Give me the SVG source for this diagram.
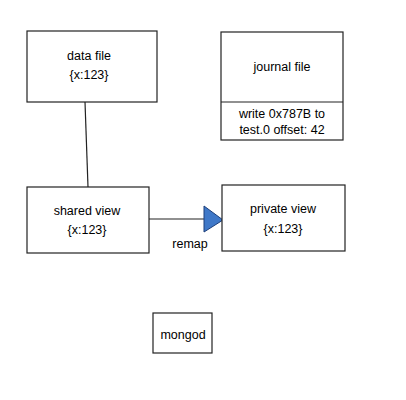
<svg xmlns="http://www.w3.org/2000/svg" width="406" height="400" viewBox="0 0 406 400">
<style>
.box{fill:#fff;stroke:#222;stroke-width:1.2}
.t{font-family:"Liberation Sans",sans-serif;font-size:12.5px;fill:#000;text-anchor:middle}
.c{stroke:#222;stroke-width:1.2;fill:none}
</style>
<rect width="406" height="400" fill="#fff"/>
<g id="connectors">
<line class="c" x1="85" y1="102" x2="88" y2="187"/>
<line class="c" x1="145" y1="219" x2="205" y2="219"/>
<polygon points="204,206 223,220 204,232" fill="#3f78c8" stroke="#1d3f7a" stroke-width="1"/>
<text class="t" x="190" y="248">remap</text>
</g>
<g id="data-file">
<rect class="box" x="27" y="31" width="130" height="71"/>
<text class="t" x="89" y="60">data file</text>
<text class="t" x="89" y="79">{x:123}</text>
</g>
<g id="journal-file">
<rect class="box" x="221" y="32" width="122" height="108"/>
<line class="c" x1="221" y1="102" x2="343" y2="102"/>
<text class="t" x="282" y="71">journal file</text>
<text class="t" x="282" y="118">write 0x787B to</text>
<text class="t" x="282" y="134">test.0 offset: 42</text>
</g>
<g id="shared-view">
<rect class="box" x="27" y="187" width="122" height="66"/>
<text class="t" x="87" y="215">shared view</text>
<text class="t" x="87" y="234">{x:123}</text>
</g>
<g id="private-view">
<rect class="box" x="222" y="185" width="123" height="66"/>
<text class="t" x="283" y="213">private view</text>
<text class="t" x="283" y="233">{x:123}</text>
</g>
<g id="mongod">
<rect class="box" x="153" y="313" width="59" height="40"/>
<text class="t" x="183" y="339">mongod</text>
</g>
</svg>
